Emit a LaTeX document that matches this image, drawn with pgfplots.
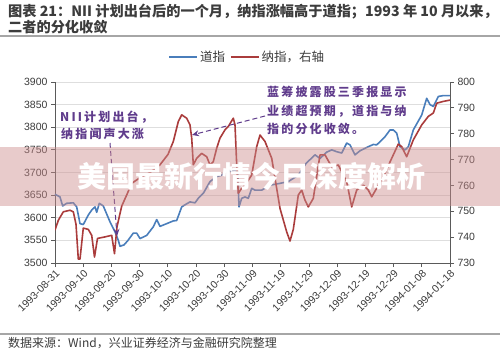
\documentclass[border=0pt]{standalone}
\usepackage{pgfplots}
\pgfplotsset{compat=1.18}
\usepackage{fontspec}
\setmainfont{Liberation Sans}
\newfontfamily\cjk{Noto Sans CJK SC}
\newfontfamily\cjkann[LetterSpace=18]{Noto Sans CJK SC}
\usetikzlibrary{arrows.meta}
\definecolor{dow}{RGB}{74,126,187}
\definecolor{nas}{RGB}{170,60,60}
\definecolor{ann}{RGB}{96,60,140}
\definecolor{axgray}{RGB}{90,90,90}
\definecolor{gridgray}{RGB}{222,222,222}
\definecolor{txtgray}{RGB}{60,60,60}

\pgfplotstableread{
x y
0 3652
1.77 3646
2.73 3626
4.15 3632
6.49 3633
7.69 3624
8.86 3587
10.03 3585
11.80 3606
13.01 3617
14.18 3624
14.78 3612
15.70 3632
17.12 3626
19.49 3591
21.27 3569
22.44 3550
23.04 3537
24.46 3540
25.87 3550
27.75 3566
28.96 3566
30.13 3554
32.50 3561
34.84 3580
36.05 3596
37.22 3581
39.59 3587
41.93 3593
43.13 3594
44.91 3624
46.43 3630
47.85 3635
49.62 3633
50.79 3643
52.56 3654
54.94 3680
57.31 3691
59.08 3694
60.86 3702
63.80 3705
64.76 3702
65.22 3624
66.17 3643
67.34 3646
68.51 3643
69.72 3665
70.89 3661
73.26 3661
76.20 3672
79.75 3676
82.69 3680
86.23 3694
88.96 3720
92.15 3739
93.92 3731
96.30 3745
98.07 3750
99.84 3746
101.62 3743
103.39 3765
104.56 3761
106.33 3739
108.10 3748
111.04 3757
112.82 3762
114.02 3761
116.96 3779
118.73 3794
119.90 3794
121.11 3787
122.28 3757
124.05 3750
125.22 3757
126.99 3794
129.97 3827
131.74 3864
132.91 3850
134.08 3846
135.85 3868
137.63 3870
140 3870
}\dowtable

\pgfplotstableread{
x y
0 742.7
1.17 746.5
2.94 749.8
5.32 750.4
6.49 749.8
7.44 745
8.26 731.5
8.86 731.5
10.03 743.5
11.80 743
13.01 740.7
14.00 732.3
15.06 739.5
17.72 740.1
20.10 740.7
21.09 733.6
21.97 744
23.64 752
25.41 756.3
27.18 760.8
30.13 763
33.67 765
37.22 768
40.05 772
41.93 777
43.70 784.7
44.91 787.3
46.68 786
47.85 783.4
48.45 778.3
49.02 768
50.22 770.5
52.00 772.4
53.77 771.1
54.94 767.9
56.11 769.2
57.31 774.4
58.48 778.3
60.25 781.5
61.42 782.8
63.20 786
63.80 783.4
64.40 768
64.97 757
66.17 758.9
67.34 760.1
69.72 764
71.49 775
72.66 779.5
74.43 777
76.81 770.5
79.75 751.1
82.13 742
83.29 738.5
84.46 743
86.23 756.3
87.44 758.2
88.61 754.3
89.78 751.7
91.55 755
93.92 771.8
95.70 771.8
98.07 767.2
100.41 767.9
103.39 761.4
105.16 751.7
106.93 758.2
109.27 760.1
111.04 758.2
112.25 755.6
114.02 758.9
116.36 763.4
119.34 770.5
121.68 776
122.88 775
124.65 771.1
126.99 777.6
129.97 783.4
132.31 786.7
134.08 788
135.29 791.8
137.63 792.5
140 793
}\nastable

\begin{document}
\begin{tikzpicture}
\useasboundingbox (0pt,0pt) rectangle (500pt,354pt);
\fill[white] (0pt,0pt) rectangle (500pt,354pt);

% left axis: Dow
\begin{axis}[
  at={(55pt,91pt)}, anchor=south west,
  scale only axis, width=395pt, height=181pt,
  xmin=0, xmax=140, ymin=3500, ymax=3900,
  axis x line*=bottom, axis y line*=left,
  axis line style={axgray, line width=0.9pt},
  tick align=outside, major tick length=4pt,
  tick style={axgray, line width=0.8pt},
  ytick={3500,3550,...,3900},
  xtick={0,10,...,140},
  xticklabels={1993-08-31,1993-09-10,1993-09-20,1993-09-30,1993-10-10,1993-10-20,1993-10-30,1993-11-09,1993-11-19,1993-11-29,1993-12-09,1993-12-19,1993-12-29,1994-01-08,1994-01-18},
  x tick label style={rotate=45, anchor=north east, font=\fontsize{10.5}{11}\selectfont, text=txtgray, inner sep=1.5pt},
  y tick label style={font=\fontsize{10.5}{11}\selectfont, text=txtgray},
  /pgf/number format/assume math mode=true,
  /pgf/number format/1000 sep={},
  ymajorgrids, grid style={gridgray, line width=0.8pt},
  clip=false,
]
\addplot[dow, line width=1.6pt, line join=round] table[x=x,y=y] {\dowtable};
\end{axis}

% right axis: Nasdaq
\begin{axis}[
  at={(55pt,91pt)}, anchor=south west,
  scale only axis, width=395pt, height=181pt,
  xmin=0, xmax=140, ymin=730, ymax=800,
  axis x line=none, axis y line*=right,
  axis line style={axgray, line width=0.9pt},
  tick align=outside, major tick length=4pt,
  tick style={axgray, line width=0.8pt},
  ytick={730,740,...,800},
  y tick label style={font=\fontsize{10.5}{11}\selectfont, text=txtgray},
  /pgf/number format/assume math mode=true,
  legend style={at={(0.487,1.138)}, anchor=center, draw=none, fill=none,
    legend columns=2, font=\cjk\fontsize{12.5}{14}\selectfont, text=txtgray,
    /tikz/every even column/.append style={column sep=3pt}},
  legend image code/.code={\draw[#1] (0pt,0pt) -- (28pt,0pt);},
]
\addlegendimage{dow, line width=1.6pt}
\addlegendentry{道指}
\addplot[nas, line width=1.6pt, line join=round] table[x=x,y=y] {\nastable};
\addlegendentry{纳指，右轴}
\end{axis}

% annotations
\node[anchor=west, text=ann, font=\cjkann\bfseries\fontsize{12}{14}\selectfont, inner sep=0pt] at (60pt,236.5pt) {NII计划出台，};
\node[anchor=west, text=ann, font=\cjkann\bfseries\fontsize{12}{14}\selectfont, inner sep=0pt] at (61pt,220pt) {纳指闻声大涨};
\draw[ann, line width=1pt, dash pattern=on 5pt off 3pt, -{Stealth[length=7pt,width=6pt]}] (110pt,211pt) -- (117pt,118pt);

\node[anchor=west, text=ann, font=\cjkann\bfseries\fontsize{12}{14}\selectfont, inner sep=0pt] at (267pt,262pt) {蓝筹披露股三季报显示};
\node[anchor=west, text=ann, font=\cjkann\bfseries\fontsize{12}{14}\selectfont, inner sep=0pt] at (267pt,243pt) {业绩超预期，道指与纳};
\node[anchor=west, text=ann, font=\cjkann\bfseries\fontsize{12}{14}\selectfont, inner sep=0pt] at (267pt,225pt) {指的分化收敛。};
\draw[ann, line width=1pt, dash pattern=on 5pt off 3pt, -{Stealth[length=7pt,width=6pt]}] (265pt,238pt) -- (192pt,219pt);

% title
\node[anchor=west, inner sep=0pt, font=\cjk\bfseries\fontsize{14.2}{16}\selectfont, text=txtgray] at (8pt,342pt) {图表 21：NII 计划出台后的一个月，纳指涨幅高于道指；1993 年 10 月以来，};
\node[anchor=west, inner sep=0pt, font=\cjk\bfseries\fontsize{14.2}{16}\selectfont, text=txtgray] at (8pt,327pt) {二者的分化收敛};
\draw[gray!70, line width=1.2pt] (0pt,318pt) -- (500pt,318pt);

% source
\draw[gray!70, line width=1.2pt] (0pt,20pt) -- (500pt,20pt);
\node[anchor=west, inner sep=0pt, font=\cjk\fontsize{12}{13}\selectfont, text=txtgray] at (8pt,11pt) {数据来源：Wind，兴业证券经济与金融研究院整理};

% banner overlay
\fill[fill={rgb,255:red,205;green,140;blue,140}, opacity=0.45] (0pt,148pt) rectangle (500pt,207pt);
\node[text=white, font=\cjk\bfseries\fontsize{29}{32}\selectfont, inner sep=0pt] at (251pt,178pt) {美国最新行情今日深度解析};
\end{tikzpicture}
\end{document}
